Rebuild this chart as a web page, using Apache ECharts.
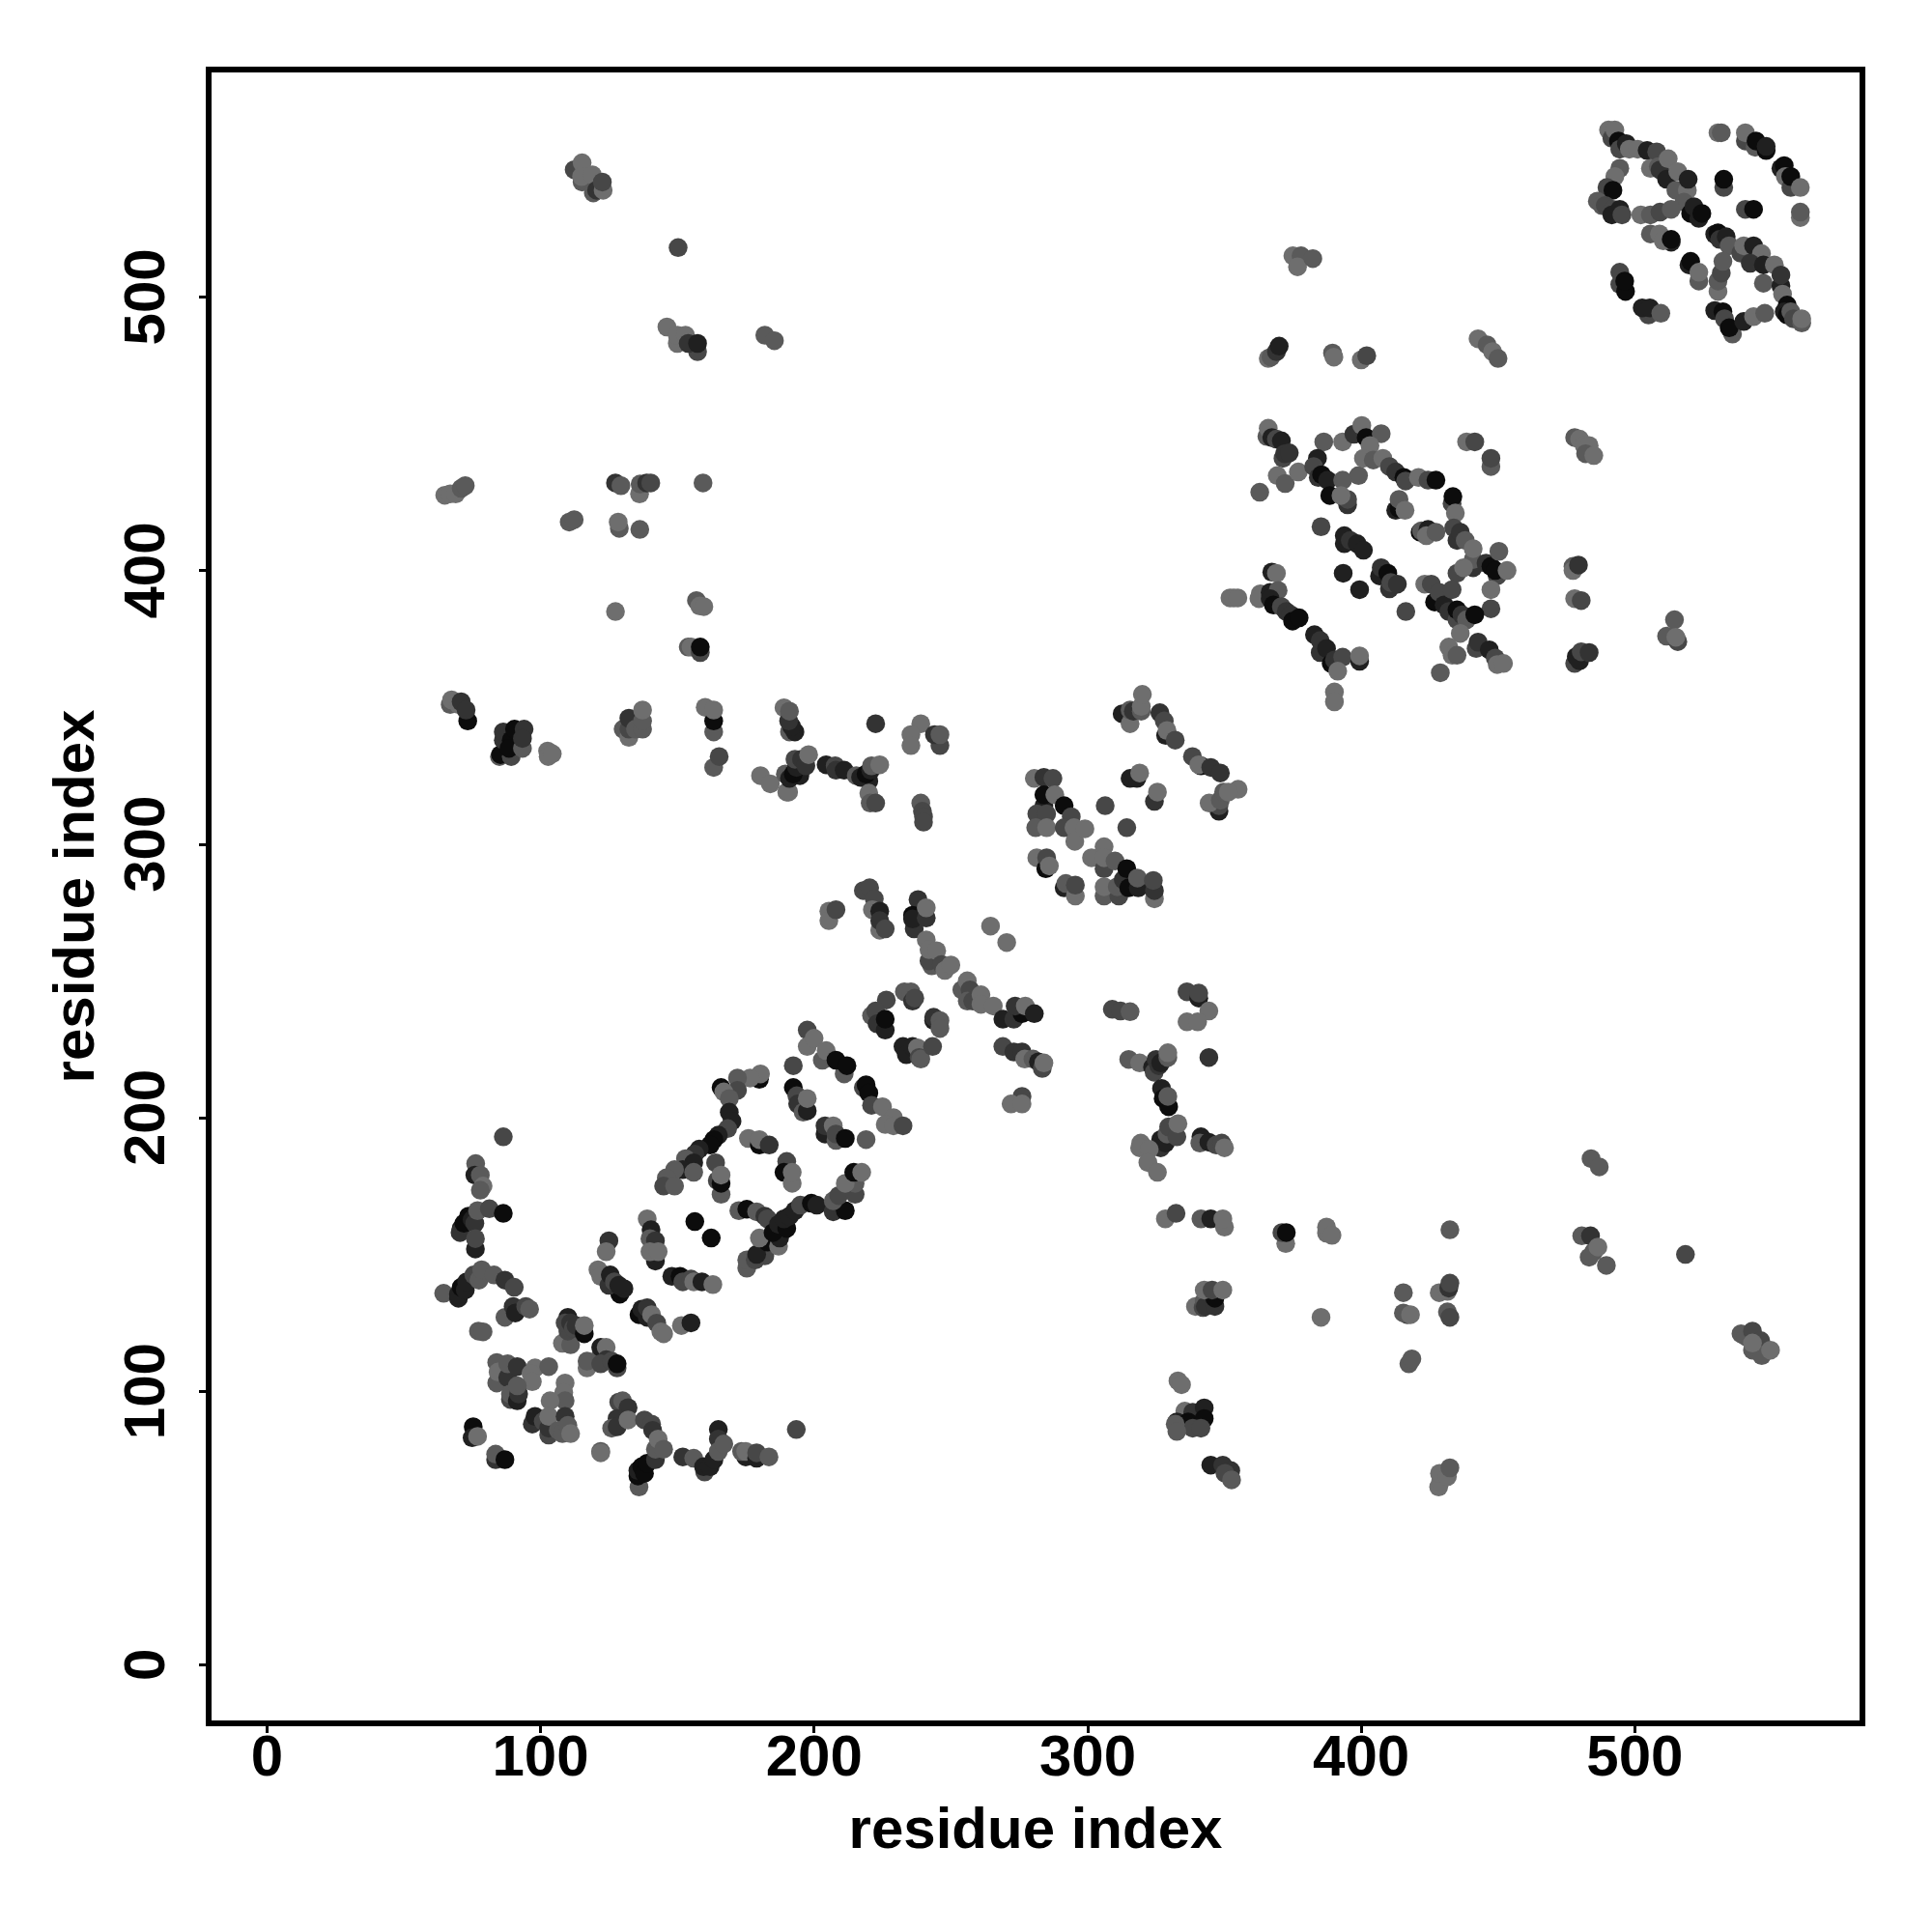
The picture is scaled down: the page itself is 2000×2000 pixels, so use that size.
<!DOCTYPE html>
<html>
<head>
<meta charset="utf-8">
<style>html,body{margin:0;padding:0;background:#fff}#c{width:2000px;height:2000px}</style>
<script src="https://cdn.jsdelivr.net/npm/echarts@6/dist/echarts.min.js"></script>
</head>
<body>
<div id="c"></div>
<script>
// Each contact: [residue i, residue j, shade 0 (darkest) .. 5 (lightest)]
const tickValues = [0, 100, 200, 300, 400, 500];
const axisTitle = "residue index";
const lowerLeft = [
[86.4,193,3],[76.3,183.2,4],[76,179,1],[78,179,4],[79,175,5],[78,173.5,4],
[71,159.5,1],[70.6,158,2],[72,161.4,0],[73.7,164,0],[75,162.7,1],[76,161.4,2],[77,166,4],[81.3,166.7,3],[86.4,165,0],[76.2,152,1],[76.2,155.8,3],
[64.6,135.8,4],[70,134,1],[70,135.5,1],[71,138,0],[72.5,137,1],[73,140,1],[75.6,142.5,3],[77.5,140.6,4],[78.5,144.4,4],[83,142.5,4],[87,140.6,2],[90.4,138,3],
[87,127,4],[90,131,2],[90.8,128.6,1],[94.6,131,3],[96,130,4],[77.3,122,4],[79,121.7,4],
[108,117.5,5],[111,117,4],[110,122,3],[110,127,1],[109,125,3],[111,125,2],[112,123,3],[113,124,2],[116,121,0],[116,124,5],
[117,108.5,5],[117,111,4],[122,113,4],[122,116,1],[124,116,5],[124,111.5,2],[122,110,3],[126,111,3],[128,108.5,3],[128,110,0],
[84,103,4],[84,110.5,4],[84.5,107,5],[88,105,2],[88,110,4],[91.5,109,2],[98,108.5,5],[96.5,106.5,5],[97,103.5,5],[103,109,4],[89,97,3],[89,99,4],[91.5,96.5,1],[92,99,2],[91.5,102,4],
[109,103,5],[108.5,99.5,5],[109,96.5,4],[103.5,96.5,5],
[97,88,2],[98,90.8,1],[101,89,3],[103,84,3],[103,86.5,2],[103,90.8,5],[109,90.8,2],[106.5,85.7,4],[108,84.5,4],[110,87.5,4],[111,84.5,5],
[75.4,87,0],[75,83,1],[77,83.5,5],[83.6,75,2],[83.6,77,4],[87,75,0],
[122,78,4],[122,77.5,5],
[128.6,96,3],[130,96.5,4],[132,94,2],[128,90,2],[126,86.5,4],[128,87,2],[132,89.5,5],
[138,89.5,3],[140.6,88,3],[141,85.7,2],[136,65,4],[135.6,69,0],[135.6,71,1],[137,72.4,0],[138,70,0],[139,73.7,0],[142,75,2],[142,78.8,4],[143,82.5,5],[145,78.8,4],
[152,76,2],[156,75.5,4],[160,70.5,3],[159.6,72.4,1],[162,72.4,1],[163.4,75,1],[165,86,1],[165,82.5,2],[165,78,4],[167,80.7,4],
[175,76,1],[173.5,78,4],[175,78,5],[179,75.5,1],[179,77.5,3],[183.5,76,4],[193.5,86,3]
];
const diagonalLow = [
[139,163,5],[140.4,159,1],[140,155.8,4],[142,155,2],[142,147.6,1],[140,151,5],[143,151,5],
[125,155,2],[124,151,5],[156.4,162,0],[162.4,156,0],
[121,144.4,5],[122,142,5],[129,135.5,0],[130.5,137.5,1],[125,138.7,2],[125.5,142.5,1],[127,140,3],[128.6,138.7,1],
[136,128,0],[137,130,1],[139,127,1],[139,130.5,2],[140.6,128,5],[142.5,124.9,3],[144,121.7,5],[145,121,5],[151.5,124,5],[155,125,1],
[148,142,1],[151,142,0],[152,140,3],[155,141,3],[156,140,5],[159,140,1],[163,139,5],
[172.5,166,4],[175.4,166.5,0],[179,165.6,4],[182,164,2],[183,163,3],[175.4,145,4],[175.4,148,4],[178.5,148,3],[182,149.5,3],[179,150,1],[183,154.5,0],[180,156,5],[187,153,5],[187.4,156,1],[185,158,0],[187,161,1],[190,159.5,0],[189,163,1],[191,164,1],[193,166,1],[195,168,3],[199,168.7,0],[201,168,1],[207,165.6,2],[211.4,166,0],[207,169.6,4],[209,171.5,3],[215,172,3],[215,176,4],[211.4,176,5],[214.5,180,0],[217.4,180,5],
[180,214,0],[180.4,216,5],[176.6,214.5,5],[172,214.5,4],[166,211,0],[172,210,3],[167,209.4,5],[169,207,4],[169,202,1],[170,198.7,1],[168.4,196,3],[165,193.6,1],[163.4,192,0],[162,190,0],[158,188.5,1],[156.4,186.7,2],[153,185,4],[156,183.5,1],[152,181,1],[149,181,4],[156,180,4],[146,178,4],[145,175,3],[149,175,4],
[164,183.5,3],[164.6,177,3],[166,172,4],[166,176,0],[166,179,5],
[176,192.4,5],[180,190,0],[180,192,5],[183.6,190,2],[190,184,3],[189,180,0],[192,176,5],[192,180,5],
[192.4,211,0],[193.7,208,3],[194,205,2],[196,202,4],[197.5,202.5,1],[197.5,207,5],[192.4,219,3],
[197.5,232,3],[197.5,226,5],[200,229,5],[203,221,4],[204.4,224.5,5],[211,216,4],[208,221,0],[212,219,0],
[218,211,3],[219,212,0],[220,209,0],[221,204.5,3],[225,204,5],[229,200,5],[226,197.5,5],[229,197,5],[232.5,197,3],
[204,194,1],[204,197,2],[207,197,5],[208,191.7,4],[208,194,3],[211.4,192.4,0],[219,192,4]
];
const middleBand = [
[189,349.8,5],[191,341,4],[193,341,1],[191.8,343,1],[190.7,345,2],[191,348.6,4],
[222.5,344,2],[239,344,5],[235.4,340,5],[235.4,336,5],[246,336,3],[244,340,2],[246,340,4],
[239,315,4],[239.6,312,3],[240,310,3],[240,308,3],
[180.4,325,5],[184,322,5],[190,319,5],[190.7,319,5],[189.5,325.6,4],[191,324,1],[194.8,325,1],[192.4,325.6,0],[193.6,328,1],[193,331,3],[195.4,331,2],[197,328.6,2],[198,332.7,5],
[204.4,329,1],[207.7,328.6,3],[208,327,2],[211,327,1],[215.4,325,4],[217,324.4,1],[220,323,1],[219,325.6,0],[220.7,327,1],[221,328.6,4],[224,329,5],[220,318.6,5],[220.5,315,4],[222.5,315,3],
[218,283,3],[220.3,284,3],[222,280,3],[221.3,276,5],[224,275.5,1],[224,268.5,5],[224,272,2],[226,269,3],
[205.4,275.5,5],[205.4,272,5],[208,276,3],
[238,279.7,2],[236,274,0],[236.6,269,2],[236,272.6,1],[241,273,2],[241,276.7,5],
[243,255.5,4],[242,257.3,3],[241,265,5],[242,261.4,5],[244.8,261,5],[246.6,256,3],[247.8,253.8,5],[250,255.8,5],
[264.5,270,5],[270.4,264,5],
[254,246.7,4],[256,250,5],[257,246.7,3],[256,242.6,4],[258,242.6,3],[261,244.9,5],[261,241.4,5],[265.5,240.8,5],
[269,236,1],[273,236,2],[276,238,0],[273.5,240.8,2],[277.2,240.8,5],[280.5,238,1],
[269,226,3],[273,224,2],[276,224,2],[277,221.4,5],[280,221.4,4],[282,220.4,1],[283.4,218,3],[284,220,5],
[276,207.8,3],[272,205,5],[276,205,5],
[226.4,243,3],[221,237.3,4],[222.5,239,3],[223,234.3,2],[226,232,1],[226,236,0],
[233,246,4],[235.4,246,4],[236,242.6,2],[236.8,243.7,3],[243.7,235.5,1],[243.7,236.7,2],[246,235.5,4],[246,232.6,4],
[232.5,226,1],[233.7,223,1],[236,226,1],[237.8,225.5,5],[238.4,222,3],[239,221.4,4],[243.3,226,3]
];
const centreRight = [
[312.6,347.6,1],[315.5,344,5],[315.5,349,4],[316.7,348.6,2],[319.6,348.6,4],[319.6,350.3,5],[320,354.7,5],
[326.4,348,2],[328,345,3],[328.5,339.7,1],[329,341.5,5],[332,338,3],[338.3,332,3],[341.4,328.6,0],[340.6,329,5],[345,328,2],[348.5,326,2],[355,320,5],
[348,312,1],[348,314,3],[344.4,315,5],[348.5,316,4],[349.7,319,4],[351.4,319,5],
[315.5,324,1],[318,324,1],[319,326,5],[324.4,315.6,2],[325.5,319,5],[306.4,314,3],[314.3,306,3],
[280.5,324,5],[284,324.4,2],[287.3,324,3],[284,314,1],[284,318,0],[288,318,5],[281.4,311,3],[285,311,3],[281,306,4],[285,306,5],
[291.4,314,0],[294,310,3],[291.4,306,3],[295,306,5],[295.3,301,5],[299,305.6,5],
[281.4,295,5],[284.7,291,0],[285,295,3],[286,292,5],[291.4,284,1],[292,285.6,4],[295.5,281,5],[295.5,285,3],
[301.4,295,5],[306,299,5],[306,291,3],[306,295,5],[310,293.8,4],[306,281,4],[311.4,281,3],[306,284.4,5],[310.8,284.4,4],[313,287,2],[314.3,291,0],[315,284,0],[318.5,284,1],[318.2,287.6,4],[324.4,280,5],[324.4,283,2],[324,286.7,3]
];
const lowerRight = [
[336.3,246,3],[340.6,243.7,1],[340.6,245.5,3],[344.3,239,5],[336.3,235,5],[340.2,235,5],
[309,239.6,3],[312,239,3],[315.5,238.7,4],
[315,221.3,4],[319,220,5],[323.7,218.4,1],[324.3,216.6,3],[325,221.3,2],[326,219,2],[326.7,220,1],[329.3,222,4],[329.3,223.7,5],[344.3,222,2],
[327,210.7,1],[327.6,207,0],[329.6,204,0],[329.3,207.8,4],
[326,189.5,1],[326.7,189,2],[326.7,192,1],[328.4,190.7,1],[329,194,4],[329.6,196.6,3],[332.6,193,3],[333,197.8,5],[319.4,190.7,5],[319,189,5],[322.5,188.4,5],[322,183.6,5],[325.5,180,5],
[341.4,193,1],[341,190.7,4],[344.3,191,1],[347,190,3],[349,190.7,3],[350,189,5],
[328.4,163,5],[332.3,165,3],[341.4,163,4],[345,163,1],[350,160,5],[349.4,163,5],
[372.4,154,5],[371,158,3],[372.6,158,0],[387.3,157.8,5],[387.3,160,5],[389.3,157,5],[432.4,159,4],
[339.4,131,5],[342.2,130.6,3],[342.6,133,4],[343,131,2],[346.5,131,2],[346.5,134,0],[342.6,137,5],[345.5,137,3],[349.4,137,5],
[385.3,127,5],[415.4,136,4],[416.8,128,3],[415.4,128.6,4],[418,128,5],[428.5,136,5],[431.5,136.5,5],[432,137.7,2],[432.4,139.5,3],[431.5,129,4],[432.4,127,3],
[417.4,110,4],[418.5,111.8,4],[333,103.8,5],[334.3,102.4,5],
[335.5,92.7,5],[338.4,92.3,2],[342.6,93.9,1],[332.6,88.8,1],[336.7,88.8,0],[342.6,90,0],[338.4,86.5,3],[341.4,86.5,3],[332,88,4],[332.6,85.3,4],
[345,73,1],[349.4,73,2],[352.3,71,2],[350.2,70,3],[352.6,67.6,4],
[428.3,65,5],[429,67,5],[428.6,70,5],[431.5,68.8,5],[432.4,72,4],
[484,185,4],[487,182,4],[480.6,156.8,4],[483.8,156.8,2],[485,151,4],[483.3,149,4],[486.5,152.7,5],[489.6,146,4],[518.5,150,3],
[538.8,121,4],[540.6,120,4],[543,122,3],[543,115,4],[546,118.5,3],[546.4,113,4],[543,117.6,5],[549.6,115,5]
];
const upperLeft = [
[112.3,546.5,3],[115.2,549,5],[115.2,542,4],[115,544,5],[119,544.6,5],[119.3,538,4],[120.5,539,2],[122.9,539,5],[122.6,542,3],
[150.3,518,3],[146.2,489,5],[150,483,5],[150,486,5],[153,486,5],[157.4,480,3],[154,483,2],[157.4,483,1],[182,486,4],[185.5,484,4],
[127.4,432,2],[129.4,431,4],[136.2,428,5],[136.4,431.6,4],[138.8,432,2],[140.3,432,3],[159.4,432,4],
[65,427.5,5],[67,428,5],[69,428,5],[71,430,4],[72.5,431,4],
[110.5,417.7,4],[112.3,418.6,4],[128.8,415.4,4],[128.4,417.7,5],[136.3,415,4],
[127.4,385,5],[157,389,4],[158.2,387,5],[159.7,386.8,5],[154,372,4],[155,372,5],[158.4,370,3],[158.4,372,0],
[67,351,4],[67.5,352.7,5],[70,351,5],[71,352,2],[73.4,345,0],[72.8,349,2],
[85,332,4],[85.4,332.7,0],[89.3,332,3],[86.4,338,2],[86.4,341,2],[89.3,338,0],[88.5,335,0],[90.5,342,0],[94,342,2],[93.4,335,4],[93.4,338.6,2],
[102.6,334,5],[102.8,332,5],[104.3,333,5],
[130.2,342,4],[132.3,339,5],[132.3,342,3],[132.3,346,2],[134.7,342,4],[137.3,342,4],[137.3,345,4],[137.3,349,5],
[160.2,350,5],[163.3,341,4],[163.3,345,0],[163.3,349,5],[163.3,328,4],[165.3,332,3]
];
const sheetBlock = [
[365.5,449,4],[366,452,5],[367.3,448.6,1],[369,448,3],[370.8,447.4,1],[371.4,441,3],[372,442.7,2],[373.7,443,2],
[362.9,428.6,4],[369.3,434.7,5],[372.2,431.8,4],[377,436,5],[386.3,447,4],[393.2,447,5],
[397.3,449.8,2],[400.2,453,5],[401.8,448.6,0],[407.3,450,4],[403.2,445.7,5],[399,434.7,4],[400.8,441,5],[404.4,440.4,4],[407.9,441,5],[410.3,438,3],[412.6,436,2],[415.6,434,0],[416.2,432.7,3],[420.9,434,5],[424.4,433,3],[427.3,433,0],
[433.2,424.5,3],[433.5,427,0],[434.4,421,5],
[384,441,1],[382.6,438,3],[384.3,434,2],[385.5,435,0],[387.7,433,1],[393.2,433,4],[388.5,427.4,0],[395,424,2],[395,426,3],[392.6,427.4,5],
[412.6,422,1],[413.8,422.7,0],[413.8,426,4],[416,422,5],[385.3,416,3],
[393.8,409.8,1],[393.8,412.7,1],[396,411,2],[398.5,409.8,1],[400.8,407.4,1],[393.4,399,1],[399.4,393,1],
[406.7,398,1],[407.3,401,2],[409.7,399,0],[410.3,393.3,2],[410.8,395.6,3],[413.2,395,2],[416.3,385,3],
[421.5,414,0],[422,414.5,4],[424.4,415,1],[423.8,412.7,5],[427.3,414,4],
[433.8,415.6,3],[435,411,2],[436.2,414,2],[438,411,4],[440.9,401,2],[440.9,404,4],[440.9,408,5],[445.6,402.7,2],[449.7,398,3],[447.4,401.5,0],[449,400,0],[450.3,407,4],[453.3,400,5],[435,399,3],[437.4,401,5],[447.4,393,5],[447.4,386,3],
[423.2,395,5],[425.6,395,3],[426.8,388.5,0],[428.5,392,3],[430.3,387.4,1],[432,385,2],[433.2,393,3],[435,382,3],[435,385.6,0],[436.8,383.8,2],[438.5,382,4],[441.5,383.8,0],[436.2,377,5],
[442,371.5,3],[442.7,373.8,2],[446.8,371,1],[449,368,3],[449.7,365.6,5],[452,366,5],
[432,372,5],[433.2,369,5],[435,369,4],[428.9,362.6,4],
[367.3,399.4,1],[369,399,5],[352,390,5],[353.4,390,5],[354.9,390,5],
[363.1,391.5,5],[362.6,389.7,5],[366.7,392,1],[369.6,392.7,4],[366.7,389.7,1],[367.9,387.4,0],[370.8,386.8,3],[372.6,385,2],[374.3,383.8,2],[374.9,381.5,0],[377.3,382.7,0],
[382.9,376.5,1],[385,374.4,2],[385,370,2],[387.3,371.5,1],[389,366,0],[390.2,367.3,2],[393.2,368.3,3],[391.4,363.2,5],[399.4,366.8,1],[399.4,368.8,5],[390.2,355.6,5],[390.2,352,5],
[478,448.6,4],[479.8,448,5],[481.5,445.7,5],[483.3,445.7,5],[482,442.7,4],[485,442,5],
[447.4,438,4],[447.4,441,3],[438.5,447,5],[441.5,447,3],
[477.4,401.5,4],[477.4,400,5],[479.4,402,2],[478,389.7,5],[480.4,389,3],
[478,366,3],[478.6,368.5,1],[479.8,367,1],[480.4,370.3,3],[483.3,370,2],
[514.5,382,4],[511.6,376,4],[515.7,374,3],[515,375.6,5],
[375,515,5],[378,515,4],[376.7,511,5],[382.3,514,4],
[366,477.5,5],[367,478,4],[369,480,2],[370,482,1],
[389.5,479.5,4],[390,478,5],[400,477,5],[402,478.5,3],
[442.7,484.7,5],[446,482.5,4],[448,480,5],[450,477.5,4]
];
const topRight = [
[490.4,561,5],[491.6,558,3],[492.7,561,5],[494,557,0],[494.5,554,3],[496.9,556,1],[498,554,5],[501,554,5],[504.5,553.5,1],[508,553,3],[505.7,547,5],[508.6,547.6,4],[509.2,546.4,2],[512.2,550.5,5],[511.6,543,1],[515.7,545.8,5],[515,539,4],[519.2,539,5],[519.5,543,1],[518,534.6,4],[520.4,530.5,0],[521.6,533,1],[523.4,528.7,1],[524.5,530.5,0],
[494.5,547,4],[492.7,544,5],[489.8,540,3],[492,539,0],[486.3,535,4],[488,533.4,4],[489.2,533.4,3],[492,532,3],[491.6,530,1],[494.5,532,1],[495.3,530,3],
[502.2,530,5],[505.7,530,4],[509.2,531,3],[513.3,532,4],[505.7,523,4],[509,523,5],[513.3,520,1],[510.4,520.5,5],[513.3,521,0],
[519.8,511.7,1],[520.4,513,0],[523.4,505.8,4],[523.4,509,5],
[494.5,504.6,3],[494.5,509,3],[496.6,502,0],[496.3,505.8,0],[505,493.4,3],[502.7,496,1],[505.5,496,1],[509.5,494,4],
[532.5,540,3],[532.5,543,0],[530.4,560,5],[531.6,560,4],[540.4,557,3],[540.4,560,5],[544,554.7,4],[544.3,557,0],[548,553.5,0],[548,555,1],
[553.4,547,1],[554.6,548,0],[555,544,5],[557,540,3],[557,544,0],[560.5,540,5],
[540.4,532,3],[543.4,532,0],[560.5,529,5],[560.5,531,4],
[529.2,522.9,1],[530.4,523.4,0],[531,521,2],[533.4,522,1],[534.5,518.7,4],[538.7,516,3],[539.8,518.7,5],[543.4,518.7,1],[546.3,515.8,5],[542.2,512.3,2],[547,505,4],[547,511.7,1],[551,511.7,5],[553.4,504,1],[553.4,508,2],[554,501,5],[555.7,497,0],[554.6,494.6,1],[555.7,493.4,0],[557,494.6,4],[558,492,3],[561,490.5,4],[561,492,5],
[530.4,502,5],[530.4,505.8,4],[531.6,508.7,3],[532.2,513,4],
[529.2,495,1],[532.2,494.6,0],[532.8,492,3],[535.7,486.4,4],[534.5,488.7,0],[539.8,491,1],[543.4,492.8,5],[547.5,494,4]
];

const contacts = [].concat(lowerLeft, diagonalLow, middleBand, centreRight, lowerRight, upperLeft, sheetBlock, topRight);
const shadeToGrey = s => { const g = Math.round(12 + s * 19.5); return `rgb(${g},${g},${g})`; };
const font = 'Liberation Sans, Arial, Helvetica, sans-serif';

function axis(extra) {
  return Object.assign({
    type: 'value',
    name: axisTitle,
    nameLocation: 'middle',
    nameTextStyle: { fontFamily: font, fontWeight: 'bold', fontSize: 60, color: '#000' },
    axisLine: { show: true, onZero: false, lineStyle: { color: '#000', width: 6, cap: 'square' } },
    axisTick: { show: true, inside: false, length: 10, lineStyle: { color: '#000', width: 3 }, customValues: tickValues },
    splitLine: { show: false }
  }, extra);
}

const chart = echarts.init(document.getElementById('c'), null, { renderer: 'canvas', width: 2000, height: 2000 });
chart.setOption({
  animation: false,
  backgroundColor: '#fff',
  grid: { left: 216, right: 72, top: 72, bottom: 216, show: true, borderColor: '#000', borderWidth: 6, backgroundColor: 'transparent' },
  xAxis: axis({
    min: -21.3, max: 583.2, nameGap: 82,
    axisLabel: { customValues: tickValues, fontFamily: font, fontWeight: 'bold', fontSize: 60, color: '#000', margin: 7, hideOverlap: false, showMinLabel: true, showMaxLabel: true }
  }),
  yAxis: axis({
    min: -21.4, max: 583.1, nameGap: 106, nameRotate: 90,
    axisLabel: { customValues: tickValues, rotate: 90, fontFamily: font, fontWeight: 'bold', fontSize: 60, color: '#000', margin: 33, hideOverlap: false, showMinLabel: true, showMaxLabel: true }
  }),
  series: [{
    type: 'scatter',
    data: contacts,
    symbol: 'circle',
    symbolSize: 19.5,
    large: false,
    progressive: 0,
    itemStyle: { color: p => shadeToGrey(p.value[2]), opacity: 1 }
  }]
});
</script>
</body>
</html>
